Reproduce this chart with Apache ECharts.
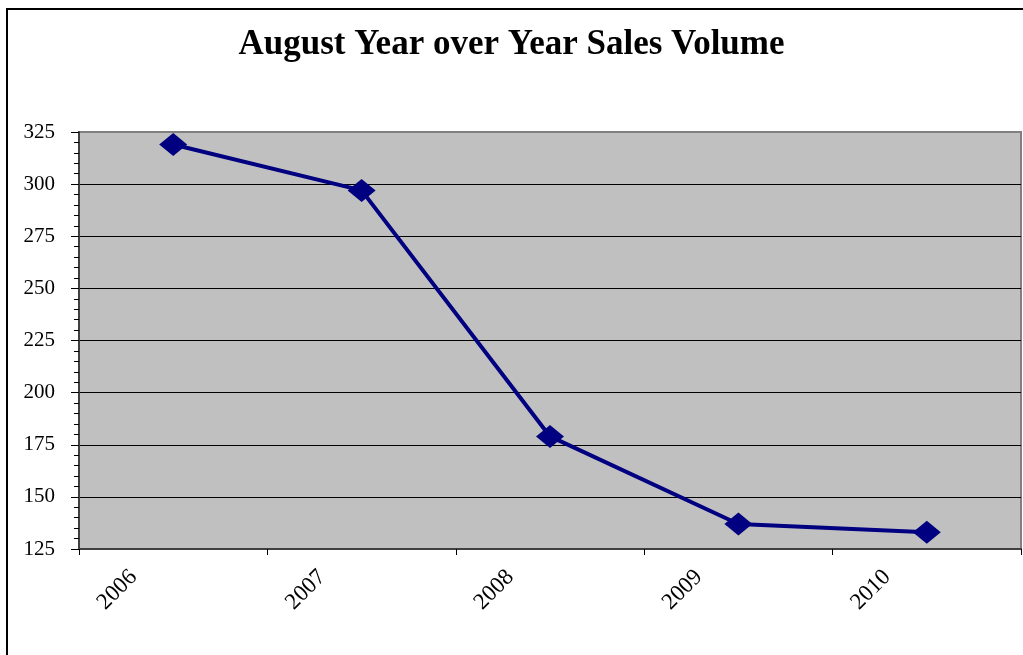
<!DOCTYPE html>
<html>
<head>
<meta charset="utf-8">
<script src="https://cdn.jsdelivr.net/npm/echarts@6/dist/echarts.min.js"></script>
<style>
  html, body { margin: 0; padding: 0; background: #fff; }
  #chart { width: 1023px; height: 655px; }
</style>
</head>
<body>
<div id="chart"></div>
<script>
const years = ['2006', '2007', '2008', '2009', '2010']
const salesVolume = [319, 297, 179, 137, 133]
const yMin = 125
const yMax = 325
const yStep = 25

const serif = "'Liberation Serif', 'Times New Roman', serif"
const myChart = echarts.init(document.getElementById('chart'))

const option = {
  backgroundColor: '#ffffff',
  animation: false,
  title: {
    text: 'August Year over Year Sales Volume',
    left: 'center',
    top: 22,
    textStyle: {
      fontFamily: serif,
      fontSize: 35,
      fontWeight: 'bold',
      color: '#000'
    }
  },
  graphic: [
    {
      type: 'rect',
      silent: true,
      shape: { x: 7, y: 9, width: 1100, height: 1000 },
      style: { fill: null, stroke: '#000', lineWidth: 2 }
    }
  ],
  grid: {
    left: 79,
    top: 132,
    right: 2,
    bottom: 106,
    show: true,
    backgroundColor: '#c0c0c0',
    borderColor: '#808080',
    borderWidth: 2
  },
  xAxis: {
    type: 'category',
    data: years,
    boundaryGap: true,
    axisLine: { lineStyle: { color: '#404040', width: 2 } },
    axisTick: { show: true, length: 6, lineStyle: { color: '#000' } },
    axisLabel: {
      rotate: 45,
      margin: -15,
      padding: [0, 56, 0, 0],
      fontFamily: serif,
      fontSize: 23,
      color: '#000'
    },
    splitLine: { show: false }
  },
  yAxis: {
    type: 'value',
    min: yMin,
    max: yMax,
    interval: yStep,
    axisLine: { show: true, lineStyle: { color: '#404040', width: 2 } },
    axisTick: { show: true, length: 8, lineStyle: { color: '#000' } },
    minorTick: { show: true, splitNumber: 5, length: 5, lineStyle: { color: '#000' } },
    axisLabel: {
      margin: 24,
      fontFamily: serif,
      fontSize: 21,
      color: '#000'
    },
    splitLine: { show: true, showMaxLine: false, lineStyle: { color: '#000', width: 1 } }
  },
  series: [
    {
      name: 'Sales Volume',
      type: 'line',
      data: salesVolume,
      symbol: 'diamond',
      symbolSize: [28, 23],
      itemStyle: { color: '#000080' },
      lineStyle: { color: '#000080', width: 4 }
    }
  ]
}
myChart.setOption(option)
</script>
</body>
</html>
